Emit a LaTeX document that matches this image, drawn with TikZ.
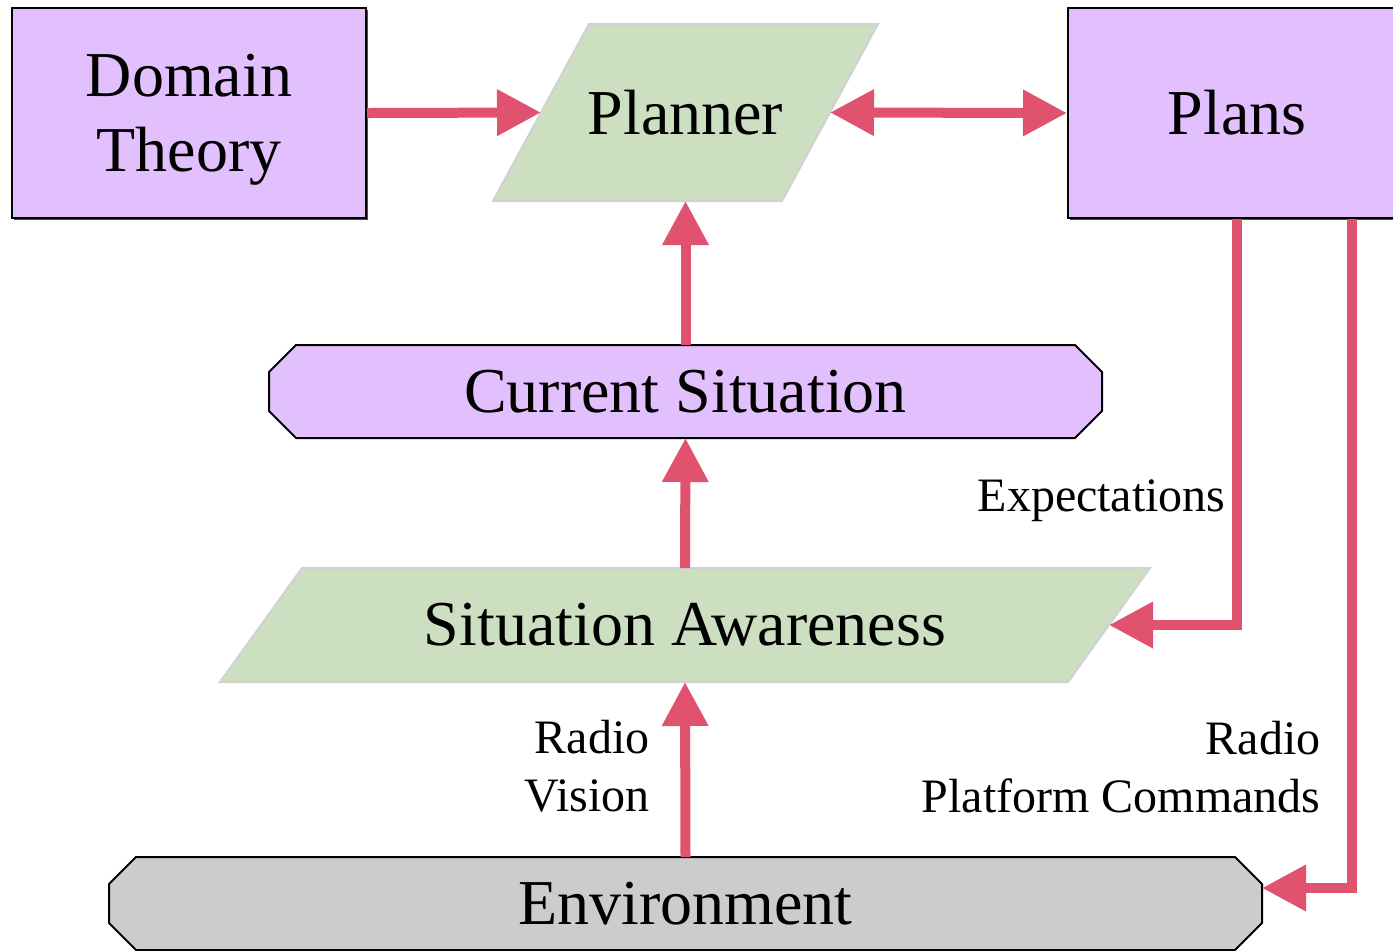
\documentclass[tikz,border=0pt]{standalone}
\usepackage{fontspec}
\setmainfont{Liberation Serif}
\usetikzlibrary{arrows.meta,shadows,backgrounds}
\definecolor{lila}{HTML}{E2BFFD}
\definecolor{verde}{HTML}{CCDFC1}
\definecolor{gris}{HTML}{CCCCCC}
\definecolor{rojo}{HTML}{E0526E}
\begin{document}
\begin{tikzpicture}[x=0.5pt, y=-0.5pt,
   grande/.style={font=\fontsize{32}{37.5}\selectfont},
   chica/.style={font=\fontsize{24}{29}\selectfont, inner sep=0pt},
   caja/.style={grande, draw=black, line width=1pt, fill=lila, minimum height=105pt, align=center,
      drop shadow={shadow xshift=1pt, shadow yshift=-1pt, fill=black!70, opacity=1}},
   cuerpo/.style={grande, outer sep=0pt, inner sep=0pt},
   borde/.style={draw=black, line width=1pt},
   bordeverde/.style={draw=black!18, line width=1pt, fill=verde},
   flecha/.style={draw=rojo, line width=5pt, -{Triangle[length=22pt,width=22pt]}},
   doble/.style={draw=rojo, line width=5pt, {Triangle[length=22pt,width=22pt]}-{Triangle[length=22pt,width=22pt]}}]
   \useasboundingbox (0,0) rectangle (1393,950);
   %cajas
   \node[caja, minimum width=177pt, text depth=0pt] (dom) at (189,113) {Domain\\Theory};
   \node[caja, minimum width=169pt] (plans) at (1237,113) {Plans};
   \node[cuerpo, minimum width=144.5pt, minimum height=88.5pt] (plan) at (685.5,112.5) {Planner};
   \node[cuerpo, minimum width=416.5pt, minimum height=46.5pt] (cur) at (685.5,391.5) {Current Situation};
   \node[cuerpo, minimum width=424pt, minimum height=57pt] (sa) at (685,625) {Situation Awareness};
   \node[cuerpo, minimum width=576.5pt, minimum height=46.5pt] (env) at (685.5,903.5) {Environment};
   %formas
   \begin{scope}[on background layer]
      \draw[bordeverde] ([xshift=24pt]plan.north west) -- ([xshift=24pt]plan.north east)
         -- ([xshift=-24pt]plan.south east) -- ([xshift=-24pt]plan.south west) -- cycle;
      \draw[bordeverde] ([xshift=20.5pt]sa.north west) -- ([xshift=20.5pt]sa.north east)
         -- ([xshift=-20.5pt]sa.south east) -- ([xshift=-20.5pt]sa.south west) -- cycle;
      \foreach \n/\c in {cur/lila, env/gris}
         \draw[borde, fill=\c] ([xshift=13.5pt]\n.north west) -- ([xshift=-13.5pt]\n.north east)
            -- ([yshift=-13.5pt]\n.north east) -- ([yshift=13.5pt]\n.south east)
            -- ([xshift=-13.5pt]\n.south east) -- ([xshift=13.5pt]\n.south west)
            -- ([yshift=13.5pt]\n.south west) -- ([yshift=-13.5pt]\n.north west) -- cycle;
   \end{scope}
   %etiquetas
   \node[chica, anchor=east] (exp) at (1226,501) {Expectations};
   \node[chica, anchor=east, align=right] (rv) at (650,766) {Radio\\Vision};
   \node[chica, anchor=east, align=right] (rpc) at (1321,767) {Radio\\Platform Commands};
   %flechas
   \draw[flecha] (dom.east) -- (plan.west);
   \draw[doble] (plan.east) -- (plans.west);
   \draw[flecha] (cur.north) -- (plan.south);
   \draw[flecha] (sa.north) -- (cur.south);
   \draw[flecha] (env.north) -- (sa.south);
   \draw[flecha] (plans.south) |- (sa.east);
   \draw[flecha] ([xshift=57.5pt]plans.south) |- ([yshift=7.75pt]env.east);
\end{tikzpicture}
\end{document}
